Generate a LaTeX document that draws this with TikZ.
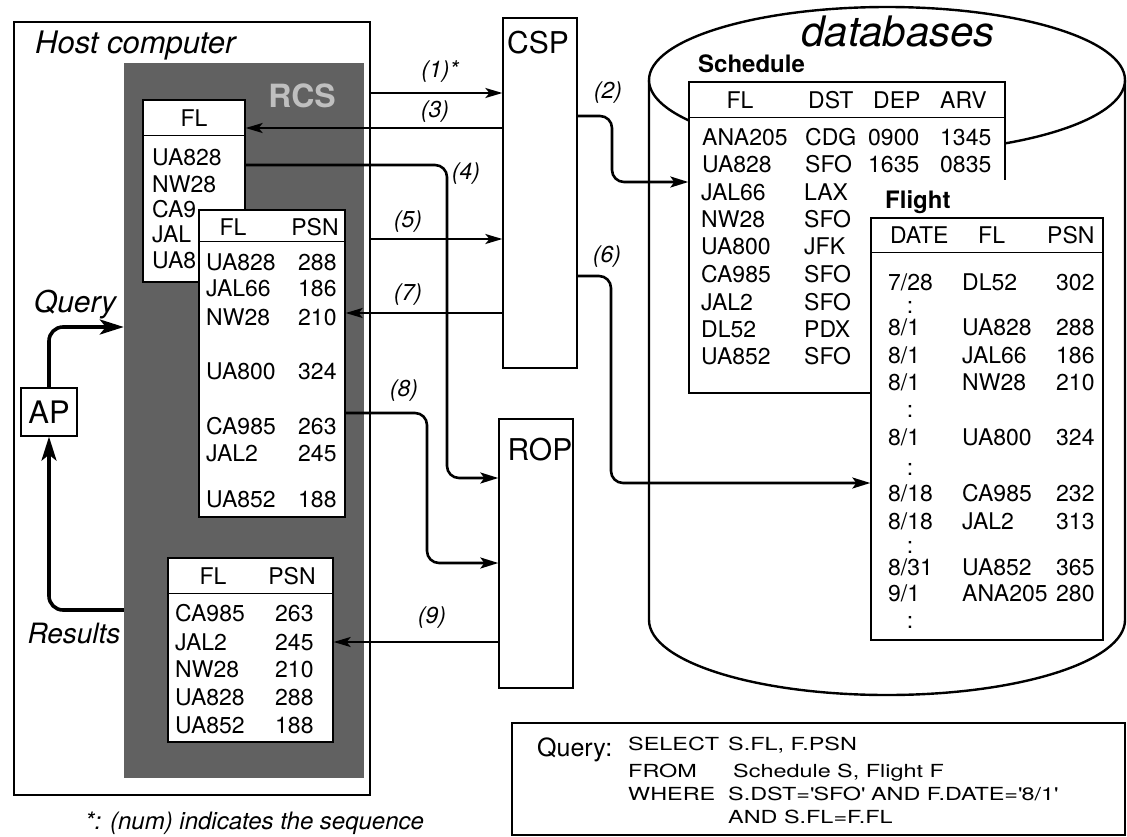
\documentclass[tikz,border=0pt]{standalone}
\usepackage{fontspec}
\setmainfont{TeX Gyre Heros}
\newfontfamily\wideqry[FakeStretch=1.3]{TeX Gyre Heros}
\usetikzlibrary{arrows.meta}
\newcommand\fsz[1]{\fontsize{#1}{#1}\selectfont}
\newcommand\tcol[2]{\makebox[#1pt][l]{#2}}

\tikzset{
  box/.style={draw, line width=1.3pt, fill=white, inner sep=0pt},
  cell/.style={anchor=base west, inner sep=0pt, font=\fsz{23}},
  hcell/.style={anchor=base, inner sep=0pt, font=\fsz{23}},
  seqlabel/.style={inner sep=0pt, font=\fsz{23}\itshape},
  qline/.style={anchor=base west, inner sep=0pt, font=\wideqry\fsz{18}},
  msg/.style={line width=1.8pt, -{Stealth[length=17pt,width=10pt,inset=4pt]}},
  route/.style={line width=2.6pt, rounded corners=12pt, -{Stealth[length=18pt,width=11pt,inset=4pt]}},
  flow/.style={line width=3.6pt, rounded corners=14pt, -{Stealth[length=24pt,width=15pt,inset=6pt]}},
}

\begin{document}
\begin{tikzpicture}[x=1pt, y=-1pt]
\useasboundingbox (0,0) rectangle (1127,836);

% host computer with the RCS area
\node[box, line width=1.1pt, minimum width=356pt, minimum height=773pt] (host) at (192,408.5) {};
\node[anchor=base west, inner sep=0pt, font=\fsz{31}\itshape] (hostlbl) at (35,53) {Host computer};
\node[fill=black!62, inner sep=0pt, minimum width=240pt, minimum height=715pt] (rcs) at (244,420.5) {};
\node[anchor=base, inner sep=0pt, font=\fsz{32}\bfseries, text=black!25] (rcslbl) at (302,107) {RCS};

% table of flight numbers
\node[box, minimum width=102pt, minimum height=182pt] (tabA) at (194,191) {};
\draw[line width=1.3pt] ([yshift=-36pt]tabA.north west) -- ([yshift=-36pt]tabA.north east);
\node[hcell] (ahd) at (194,126) {FL};
\node[cell] (a1) at (152,165) {UA828};
\node[cell] (a2) at (152,192) {NW28};
\node[cell] (a3) at (152,217) {CA9};
\node[cell] (a4) at (152,242) {JAL};
\node[cell] (a5) at (152,268) {UA8};

% table of passengers
\node[box, minimum width=146pt, minimum height=307pt] (tabB) at (272,363.5) {};
\draw[line width=1.3pt] ([yshift=-32pt]tabB.north west) -- ([yshift=-32pt]tabB.north east);
\node[hcell] (bhd1) at (233,235) {FL};
\node[hcell] (bhd2) at (315,235) {PSN};
\node[cell] (b1) at (206,270) {\tcol{92}{UA828}288};
\node[cell] (b2) at (206,296) {\tcol{92}{JAL66}186};
\node[cell] (b3) at (206,325) {\tcol{92}{NW28}210};
\node[cell] (b4) at (206,379) {\tcol{92}{UA800}324};
\node[cell] (b5) at (206,434) {\tcol{92}{CA985}263};
\node[cell] (b6) at (206,461) {\tcol{92}{JAL2}245};
\node[cell] (b7) at (206,507) {\tcol{92}{UA852}188};

% result table
\node[box, minimum width=165pt, minimum height=184pt] (tabC) at (250.5,650) {};
\draw[line width=1.3pt] ([yshift=-36pt]tabC.north west) -- ([yshift=-36pt]tabC.north east);
\node[hcell] (chd1) at (213,584) {FL};
\node[hcell] (chd2) at (292,584) {PSN};
\node[cell] (c1) at (175,621) {\tcol{100}{CA985}263};
\node[cell] (c2) at (175,650) {\tcol{100}{JAL2}245};
\node[cell] (c3) at (175,677) {\tcol{100}{NW28}210};
\node[cell] (c4) at (175,705) {\tcol{100}{UA828}288};
\node[cell] (c5) at (175,733) {\tcol{100}{UA852}188};

% application program
\node[box, minimum width=56pt, minimum height=48pt, font=\fsz{31}] (ap) at (49,412) {AP};
\coordinate (qy) at (0,327);
\coordinate (ry) at (0,610);
\draw[flow] (ap.north) |- (rcs.west |- qy);
\draw[flow] (rcs.west |- ry) -| (ap.south);
\node[anchor=base, inner sep=0pt, font=\fsz{30}\itshape] (qlbl) at (75,312) {Query};
\node[anchor=base, inner sep=0pt, font=\fsz{28}\itshape] (rlbl) at (74,643) {Results};

% processors
\node[box, minimum width=74pt, minimum height=350pt] (csp) at (540,193) {};
\node[anchor=base, inner sep=0pt, font=\fsz{30}] (csplbl) at (538,53) {CSP};
\node[box, minimum width=74pt, minimum height=269pt] (rop) at (536,553.5) {};
\node[anchor=base, inner sep=0pt, font=\fsz{30}] (roplbl) at (540,460) {ROP};

% databases
\draw[line width=2.4pt, fill=white] (649,80) -- (649,620)
  arc[start angle=180, end angle=360, x radius=238pt, y radius=75pt] -- (1125,80);
\draw[line width=2.4pt, fill=white] (887,80) ellipse[x radius=238pt, y radius=73pt];
\node[anchor=base, inner sep=0pt, font=\fsz{42}\itshape] (dblbl) at (898,46) {databases};

\node[anchor=base west, inner sep=0pt, font=\fsz{24}\bfseries] (slbl) at (698,72) {Schedule};
\node[box, minimum width=316pt, minimum height=311pt] (sched) at (847,237.5) {};
\draw[line width=1.3pt] ([yshift=-36pt]sched.north west) -- ([yshift=-36pt]sched.north east);
\node[hcell] (shd1) at (740,108) {FL};
\node[cell] (shd2) at (808,108) {DST};
\node[cell] (shd3) at (873,108) {DEP};
\node[cell] (shd4) at (940,108) {ARV};
\node[cell] (s1) at (702,145) {\tcol{103}{ANA205}\tcol{63}{CDG}\tcol{72}{0900}1345};
\node[cell] (s2) at (702,172) {\tcol{103}{UA828}\tcol{63}{SFO}\tcol{72}{1635}0835};
\node[cell] (s3) at (701,200) {\tcol{103}{JAL66}LAX};
\node[cell] (s4) at (701,227) {\tcol{103}{NW28}SFO};
\node[cell] (s5) at (701,254) {\tcol{103}{UA800}JFK};
\node[cell] (s6) at (701,282) {\tcol{103}{CA985}SFO};
\node[cell] (s7) at (701,310) {\tcol{103}{JAL2}SFO};
\node[cell] (s8) at (701,337) {\tcol{103}{DL52}PDX};
\node[cell] (s9) at (701,364) {\tcol{103}{UA852}SFO};

\fill[white] (869,180) rectangle (1012,218);
\node[anchor=base west, inner sep=0pt, font=\fsz{24}\bfseries] (flbl) at (885,208) {Flight};
\node[box, minimum width=232pt, minimum height=422pt] (flight) at (987,429) {};
\draw[line width=1.3pt] ([yshift=-35pt]flight.north west) -- ([yshift=-35pt]flight.north east);
\node[cell] (fhd1) at (890,243) {DATE};
\node[cell] (fhd2) at (978,243) {FL};
\node[cell] (fhd3) at (1047,243) {PSN};
\node[cell] (f1) at (888,290) {\tcol{74}{7/28}\tcol{94}{DL52}302};
\node[hcell] (fd1) at (910,313) {:};
\node[cell] (f2) at (888,335) {\tcol{74}{8/1}\tcol{94}{UA828}288};
\node[cell] (f3) at (888,363) {\tcol{74}{8/1}\tcol{94}{JAL66}186};
\node[cell] (f4) at (888,390) {\tcol{74}{8/1}\tcol{94}{NW28}210};
\node[hcell] (fd2) at (910,417) {:};
\node[cell] (f5) at (888,445) {\tcol{74}{8/1}\tcol{94}{UA800}324};
\node[hcell] (fd3) at (910,475) {:};
\node[cell] (f6) at (888,501) {\tcol{74}{8/18}\tcol{94}{CA985}232};
\node[cell] (f7) at (888,529) {\tcol{74}{8/18}\tcol{94}{JAL2}313};
\node[hcell] (fd4) at (910,553) {:};
\node[cell] (f8) at (888,575) {\tcol{74}{8/31}\tcol{94}{UA852}365};
\node[cell] (f9) at (888,601) {\tcol{74}{9/1}\tcol{94}{ANA205}280};
\node[hcell] (fd5) at (910,628) {:};

% message sequence
\coordinate (lv1) at (0,93);
\coordinate (lv2) at (0,116);
\coordinate (lv3) at (0,128);
\coordinate (lv4) at (0,165);
\coordinate (lv5) at (0,239);
\coordinate (lv6) at (0,276);
\coordinate (lv7) at (0,313);
\coordinate (lv8) at (0,413);
\coordinate (lv9) at (0,642);
\coordinate (bend2) at (612,182);
\coordinate (bend4) at (447,478);
\coordinate (bend6) at (611,483);
\coordinate (bend8) at (427,563);

\draw[msg] (host.east |- lv1) -- (csp.west |- lv1);
\draw[route] (csp.east |- lv2) -| (bend2) -- (sched.west |- bend2);
\draw[msg] (csp.west |- lv3) -- (tabA.east |- lv3);
\draw[route] (tabA.east |- lv4) -| (bend4) -- (rop.west |- bend4);
\draw[msg] (host.east |- lv5) -- (csp.west |- lv5);
\draw[route] (csp.east |- lv6) -| (bend6) -- (flight.west |- bend6);
\draw[msg] (csp.west |- lv7) -- (tabB.east |- lv7);
\draw[route] (tabB.east |- lv8) -| (bend8) -- (rop.west |- bend8);
\draw[msg] (rop.west |- lv9) -- (tabC.east |- lv9);

\node[seqlabel] (n1) at (440,72) {(1)*};
\node[seqlabel] (n2) at (608,93) {(2)};
\node[seqlabel] (n3) at (435,112) {(3)};
\node[seqlabel] (n4) at (466,174) {(4)};
\node[seqlabel] (n5) at (408,222) {(5)};
\node[seqlabel] (n6) at (607,257) {(6)};
\node[seqlabel] (n7) at (408,295) {(7)};
\node[seqlabel] (n8) at (404,391) {(8)};
\node[seqlabel] (n9) at (432,618) {(9)};

% query text
\node[box, line width=1.1pt, minimum width=613pt, minimum height=112pt] (qbox) at (818.5,779) {};
\node[anchor=base west, inner sep=0pt, font=\fsz{25}] (qhd) at (537,756) {Query:};
\node[qline] (q1) at (628,750) {SELECT};
\node[qline] (q2) at (728,750) {S.FL, F.PSN};
\node[qline] (q3) at (628,777) {FROM};
\node[qline] (q4) at (733,777) {Schedule S, Flight F};
\node[qline] (q5) at (628,800) {WHERE};
\node[qline] (q6) at (728,800) {S.DST=\textquotesingle SFO\textquotesingle\ AND F.DATE=\textquotesingle 8/1\textquotesingle};
\node[qline] (q7) at (728,823) {AND S.FL=F.FL};

\node[anchor=base west, inner sep=0pt, font=\fsz{24}\itshape] (note) at (85,829) {*: (num) indicates the sequence};
\end{tikzpicture}
\end{document}
